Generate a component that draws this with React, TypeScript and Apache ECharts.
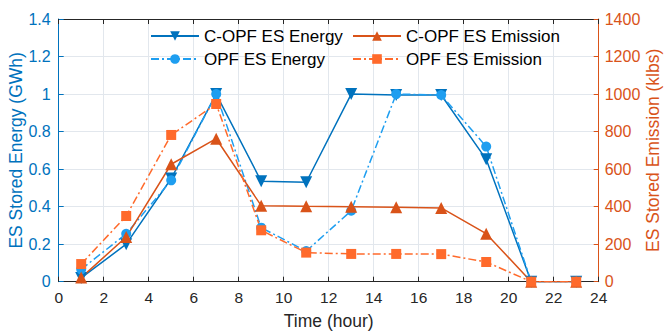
import React, { useEffect, useRef } from "react";
import * as echarts from "echarts";

const hours = [1, 3, 5, 7, 9, 11, 13, 15, 17, 19, 21, 23];
const copfEnergy = [0.02, 0.2, 0.55, 1.0, 0.535, 0.53, 1.0, 0.995, 0.995, 0.652, 0, 0];
const opfEnergy = [0.066, 0.255, 0.54, 1.0, 0.288, 0.163, 0.378, 1.0, 0.995, 0.72, 0, 0];
const copfEmission = [22, 238, 626, 762, 405, 402, 400, 397, 393, 256, 0, 0];
const opfEmission = [94, 350, 782, 947, 274, 155, 148, 148, 147, 105, 0, 0];
const xTicks = { min: 0, max: 24, interval: 2 };
const yLeftTicks = { min: 0, max: 1.4, interval: 0.2 };
const yRightTicks = { min: 0, max: 1400, interval: 200 };

const BLUE_DARK = "#0072BD";
const BLUE_LIGHT = "#1E9EF0";
const ORANGE_DARK = "#D95319";
const ORANGE_LIGHT = "#FF6A2B";
const AXIS_DARK = "#262626";
const FONT = "'Liberation Sans', Arial, Helvetica, sans-serif";
const DASHDOT = [8, 3, 2, 3];

const pairs = (ys: number[]) => hours.map((h, i) => [h, ys[i]]);

export default function App() {
  const ref = useRef<HTMLDivElement>(null);
  useEffect(() => {
    if (!ref.current) return;
    const chart = echarts.init(ref.current, null, { renderer: "svg" });
    const legendBase = {
      orient: "horizontal",
      itemWidth: 48,
      itemHeight: 12,
      itemGap: 4,
      textStyle: { fontFamily: FONT, fontSize: 17, color: "#000", lineHeight: 20 },
      selectedMode: false,
    };
    chart.setOption({
      animation: false,
      backgroundColor: "#fff",
      grid: {
        left: 58.7,
        right: 65.3,
        top: 19,
        bottom: 49.3,
        containLabel: false,
        outerBoundsMode: "none",
      },
      legend: [
        { ...legendBase, left: 145, top: 21, data: ["C-OPF ES Energy"] },
        { ...legendBase, left: 347, top: 21, data: ["C-OPF ES Emission"] },
        { ...legendBase, left: 145, top: 44, data: ["OPF ES Energy"] },
        { ...legendBase, left: 347, top: 44, data: ["OPF ES Emission"] },
      ],
      xAxis: [
        {
          type: "value",
          position: "bottom",
          min: xTicks.min,
          max: xTicks.max,
          interval: xTicks.interval,
          name: "Time (hour)",
          nameLocation: "middle",
          nameGap: 30,
          nameMoveOverlap: false,
          nameTextStyle: { fontFamily: FONT, fontSize: 17.5, color: AXIS_DARK },
          axisLine: { show: true, onZero: false, lineStyle: { color: AXIS_DARK, width: 1 } },
          axisTick: { show: true, inside: true, length: 5, lineStyle: { color: AXIS_DARK } },
          axisLabel: { fontFamily: FONT, fontSize: 15.5, color: AXIS_DARK, margin: 8 },
          splitLine: { show: true, lineStyle: { color: "#e2e7ed", width: 1 } },
        },
        {
          type: "value",
          position: "top",
          min: xTicks.min,
          max: xTicks.max,
          interval: xTicks.interval,
          axisLine: { show: true, onZero: false, lineStyle: { color: AXIS_DARK, width: 1 } },
          axisTick: { show: true, inside: true, length: 5, lineStyle: { color: AXIS_DARK } },
          axisLabel: { show: false },
          splitLine: { show: false },
        },
      ],
      yAxis: [
        {
          type: "value",
          position: "left",
          min: yLeftTicks.min,
          max: yLeftTicks.max,
          interval: yLeftTicks.interval,
          name: "ES Stored Energy (GWh)",
          nameLocation: "middle",
          nameGap: 34,
          nameMoveOverlap: false,
          nameTextStyle: { fontFamily: FONT, fontSize: 17.5, color: BLUE_DARK },
          axisLine: { show: true, onZero: false, lineStyle: { color: BLUE_DARK, width: 1 } },
          axisTick: { show: true, inside: true, length: 5, lineStyle: { color: BLUE_DARK } },
          axisLabel: {
            fontFamily: FONT,
            fontSize: 16,
            color: BLUE_DARK,
            margin: 8,
            formatter: (v: number) => String(+v.toFixed(1)),
          },
          splitLine: { show: true, lineStyle: { color: "#e2e7ed", width: 1 } },
        },
        {
          type: "value",
          position: "right",
          min: yRightTicks.min,
          max: yRightTicks.max,
          interval: yRightTicks.interval,
          name: "ES Stored Emission (klbs)",
          nameLocation: "middle",
          nameGap: 46,
          nameRotate: 90,
          nameMoveOverlap: false,
          nameTextStyle: { fontFamily: FONT, fontSize: 17.5, color: ORANGE_DARK, lineHeight: 17 },
          axisLine: { show: true, onZero: false, lineStyle: { color: ORANGE_DARK, width: 1 } },
          axisTick: { show: true, inside: true, length: 5, lineStyle: { color: ORANGE_DARK } },
          axisLabel: {
            fontFamily: FONT,
            fontSize: 16,
            color: ORANGE_DARK,
            margin: 6,
            formatter: (v: number) => String(Math.round(v)),
          },
          splitLine: { show: false },
        },
      ],
      series: [
        {
          name: "C-OPF ES Energy",
          type: "line",
          xAxisIndex: 0,
          yAxisIndex: 0,
          data: pairs(copfEnergy),
          symbol: "triangle",
          symbolRotate: 180,
          symbolSize: 12,
          showAllSymbol: true,
          color: BLUE_DARK,
          itemStyle: { color: BLUE_DARK },
          lineStyle: { color: BLUE_DARK, width: 1.5, type: "solid" },
        },
        {
          name: "OPF ES Energy",
          type: "line",
          xAxisIndex: 0,
          yAxisIndex: 0,
          data: pairs(opfEnergy),
          symbol: "circle",
          symbolSize: 10,
          showAllSymbol: true,
          color: BLUE_LIGHT,
          itemStyle: { color: BLUE_LIGHT },
          lineStyle: { color: BLUE_LIGHT, width: 1.5, type: DASHDOT },
        },
        {
          name: "C-OPF ES Emission",
          type: "line",
          xAxisIndex: 0,
          yAxisIndex: 1,
          data: pairs(copfEmission),
          symbol: "triangle",
          symbolSize: 12,
          showAllSymbol: true,
          color: ORANGE_DARK,
          itemStyle: { color: ORANGE_DARK },
          lineStyle: { color: ORANGE_DARK, width: 1.5, type: "solid" },
        },
        {
          name: "OPF ES Emission",
          type: "line",
          xAxisIndex: 0,
          yAxisIndex: 1,
          data: pairs(opfEmission),
          symbol: "rect",
          symbolSize: 10,
          showAllSymbol: true,
          color: ORANGE_LIGHT,
          itemStyle: { color: ORANGE_LIGHT },
          lineStyle: { color: ORANGE_LIGHT, width: 1.5, type: DASHDOT },
        },
      ],
    });
    return () => chart.dispose();
  }, []);
  return <div ref={ref} style={{ width: 664, height: 331, position: "absolute", left: 0, top: 0 }} />;
}
